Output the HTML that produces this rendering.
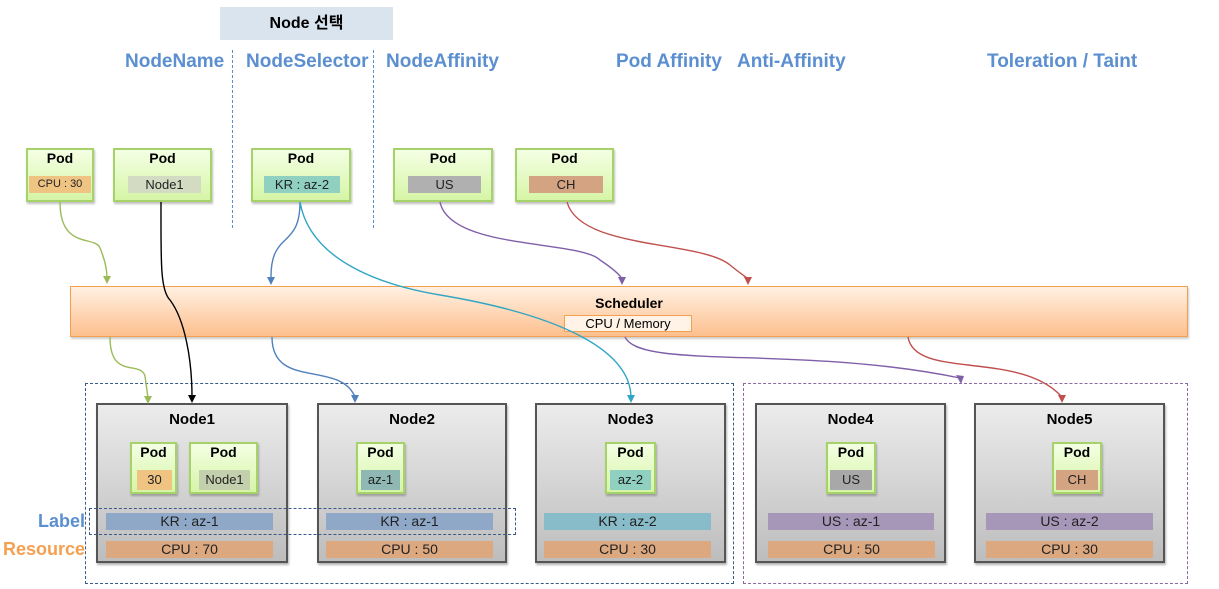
<!DOCTYPE html>
<html><head><meta charset="utf-8"><style>
body{margin:0;width:1219px;height:589px;background:#fff;position:relative;overflow:hidden;font-family:"Liberation Sans","Noto Sans CJK KR",sans-serif}
.a{position:absolute;box-sizing:border-box}
.t{font-weight:bold;color:#5b8fd0;font-size:19px;top:51px;white-space:nowrap}
.pod{background:linear-gradient(#f4ffe4,#d6f5a6);border:2px solid #a6d26a;box-shadow:1px 2px 2px rgba(0,0,0,.25);text-align:center;font-weight:bold;font-size:14px}
.tag{position:absolute;font-weight:normal;font-size:13px;text-align:center;line-height:17px;color:#222}
.node{background:linear-gradient(#ececec,#bdbdbd);border:2px solid #555;box-shadow:1px 2px 2px rgba(0,0,0,.3);text-align:center;font-weight:bold;font-size:15px;padding-top:6px}
.bar{position:absolute;height:17px;line-height:17px;font-size:14px;text-align:center;color:#222}
.dv{border-left:1px dashed #5b8fd0;width:0}
</style></head><body>
<div class="a" style="left:220px;top:7px;width:173px;height:33px;background:#d9e4ef;text-align:center;line-height:33px;font-weight:bold;font-size:16px">Node 선택</div>
<div class="a t" style="left:125px">NodeName</div>
<div class="a t" style="left:246px">NodeSelector</div>
<div class="a t" style="left:386px">NodeAffinity</div>
<div class="a t" style="left:616px">Pod Affinity</div>
<div class="a t" style="left:737px">Anti-Affinity</div>
<div class="a t" style="left:987px">Toleration / Taint</div>
<div class="a dv" style="left:232px;top:50px;height:178px"></div>
<div class="a dv" style="left:373px;top:50px;height:178px"></div>

<div class="a pod" style="left:26px;top:148px;width:68px;height:54px">Pod<div class="tag" style="left:1px;top:26px;width:62px;background:#efc482;font-size:11px">CPU : 30</div></div>
<div class="a pod" style="left:113px;top:148px;width:99px;height:54px">Pod<div class="tag" style="left:13px;top:26px;width:73px;background:#d3dcc2">Node1</div></div>
<div class="a pod" style="left:251px;top:148px;width:100px;height:54px">Pod<div class="tag" style="left:11px;top:26px;width:76px;background:#8fd0c0">KR : az-2</div></div>
<div class="a pod" style="left:393px;top:148px;width:100px;height:54px">Pod<div class="tag" style="left:13px;top:26px;width:73px;background:#b0b0b0">US</div></div>
<div class="a pod" style="left:515px;top:148px;width:99px;height:54px">Pod<div class="tag" style="left:12px;top:26px;width:74px;background:#d4a382">CH</div></div>

<div class="a" style="left:70px;top:286px;width:1118px;height:51px;background:linear-gradient(#fff0e2,#fdc08e);border:1.5px solid #f5a050;box-shadow:1px 2px 2px rgba(0,0,0,.2);text-align:center;font-weight:bold;font-size:14px;padding-top:8px">Scheduler</div>
<div class="a" style="left:564px;top:315px;width:128px;height:17px;background:#fff2e6;border:1px solid #f5a050;text-align:center;font-size:13px;line-height:15px">CPU / Memory</div>

<div class="a" style="left:85px;top:383px;width:649px;height:201px;border:1.5px dashed #3a5a8a"></div>
<div class="a" style="left:743px;top:383px;width:445px;height:201px;border:1.5px dashed #8a6aa0"></div>

<div class="a node" style="left:96px;top:403px;width:192px;height:160px">Node1</div>
<div class="a node" style="left:317px;top:403px;width:190px;height:160px">Node2</div>
<div class="a node" style="left:535px;top:403px;width:191px;height:160px">Node3</div>
<div class="a node" style="left:755px;top:403px;width:191px;height:160px">Node4</div>
<div class="a node" style="left:974px;top:403px;width:191px;height:160px">Node5</div>

<div class="a pod" style="left:130px;top:442px;width:47px;height:52px">Pod<div class="tag" style="left:5px;top:26px;width:35px;height:20px;line-height:20px;background:#efc482">30</div></div>
<div class="a pod" style="left:189px;top:442px;width:69px;height:52px">Pod<div class="tag" style="left:8px;top:26px;width:51px;height:20px;line-height:20px;background:#c4cfad">Node1</div></div>
<div class="a pod" style="left:356px;top:442px;width:49px;height:52px">Pod<div class="tag" style="left:3px;top:26px;width:39px;height:20px;line-height:20px;background:#8fb8b4">az-1</div></div>
<div class="a pod" style="left:605px;top:442px;width:51px;height:52px">Pod<div class="tag" style="left:3px;top:26px;width:41px;height:20px;line-height:20px;background:#8fd0c0">az-2</div></div>
<div class="a pod" style="left:826px;top:442px;width:50px;height:52px">Pod<div class="tag" style="left:2px;top:26px;width:42px;height:20px;line-height:20px;background:#a8a8a8">US</div></div>
<div class="a pod" style="left:1052px;top:442px;width:50px;height:52px">Pod<div class="tag" style="left:2px;top:26px;width:42px;height:20px;line-height:20px;background:#d4a382">CH</div></div>

<div class="bar" style="left:106px;top:513px;width:167px;background:#8fa8c8">KR : az-1</div>
<div class="bar" style="left:326px;top:513px;width:167px;background:#8fa8c8">KR : az-1</div>
<div class="bar" style="left:544px;top:513px;width:167px;background:#88bcc8">KR : az-2</div>
<div class="bar" style="left:768px;top:513px;width:166px;background:#a697b8">US : az-1</div>
<div class="bar" style="left:986px;top:513px;width:167px;background:#a697b8">US : az-2</div>
<div class="bar" style="left:106px;top:541px;width:167px;background:#dca880">CPU : 70</div>
<div class="bar" style="left:326px;top:541px;width:167px;background:#dca880">CPU : 50</div>
<div class="bar" style="left:544px;top:541px;width:167px;background:#dca880">CPU : 30</div>
<div class="bar" style="left:768px;top:541px;width:167px;background:#dca880">CPU : 50</div>
<div class="bar" style="left:986px;top:541px;width:167px;background:#dca880">CPU : 30</div>

<div class="a" style="left:89px;top:508px;width:427px;height:27px;border:1.5px dashed #3a5a8a"></div>
<div class="a" style="left:38px;top:511px;font-weight:bold;font-size:18px;color:#5b8fd0">Label</div>
<div class="a" style="left:3px;top:539px;font-weight:bold;font-size:18px;color:#f5a050">Resource</div>

<svg class="a" style="left:0;top:0" width="1219" height="589" viewBox="0 0 1219 589">
<defs>
<marker id="mg" markerWidth="8" markerHeight="8" refX="4" refY="7" orient="auto" markerUnits="userSpaceOnUse" viewBox="0 0 8 8"><path d="M0,0 L8,4 L0,8z" fill="#9bbb59" transform="rotate(90 4 4)"/></marker>
</defs>
<g fill="none" stroke-width="1.4">
<path d="M60,202 C60,250 95,235 100,248 C105,260 107,270 107,278" stroke="#9bbb59"/>
<path d="M110,337 C110,380 140,360 145,376 L148,398" stroke="#9bbb59"/>
<path d="M161,202 C161,260 160,290 170,300 C185,320 192,360 192,397" stroke="#000"/>
<path d="M300,202 C300,250 270,230 271,279" stroke="#4f81bd"/>
<path d="M272,337 C272,390 340,360 355,397" stroke="#4f81bd"/>
<path d="M300,202 C310,260 380,285 440,295 C560,315 630,350 631,397" stroke="#31a6c4"/>
<path d="M440,202 C450,250 580,240 600,260 C615,270 620,275 622,279" stroke="#7f5fa8"/>
<path d="M625,337 C640,370 800,345 960,378" stroke="#7f5fa8"/>
<path d="M567,202 C580,250 700,240 730,265 C742,275 748,278 748,279" stroke="#c0504d"/>
<path d="M908,337 C915,380 1020,350 1062,397" stroke="#c0504d"/>
</g>
<g>
<path d="M103,276 L111,276 L107,284z" fill="#9bbb59"/>
<path d="M144,396 L152,396 L148,404z" fill="#9bbb59"/>
<path d="M188,395 L196,395 L192,403z" fill="#000"/>
<path d="M267,277 L275,277 L271,285z" fill="#4f81bd"/>
<path d="M351,395 L359,395 L355,403z" fill="#4f81bd"/>
<path d="M627,395 L635,395 L631,403z" fill="#31a6c4"/>
<path d="M618,277 L626,277 L622,285z" fill="#7f5fa8"/>
<path d="M956,375 L964,376 L961,384z" fill="#7f5fa8"/>
<path d="M744,277 L752,277 L748,285z" fill="#c0504d"/>
<path d="M1058,395 L1066,395 L1062,403z" fill="#c0504d"/>
</g>
</svg>
</body></html>
